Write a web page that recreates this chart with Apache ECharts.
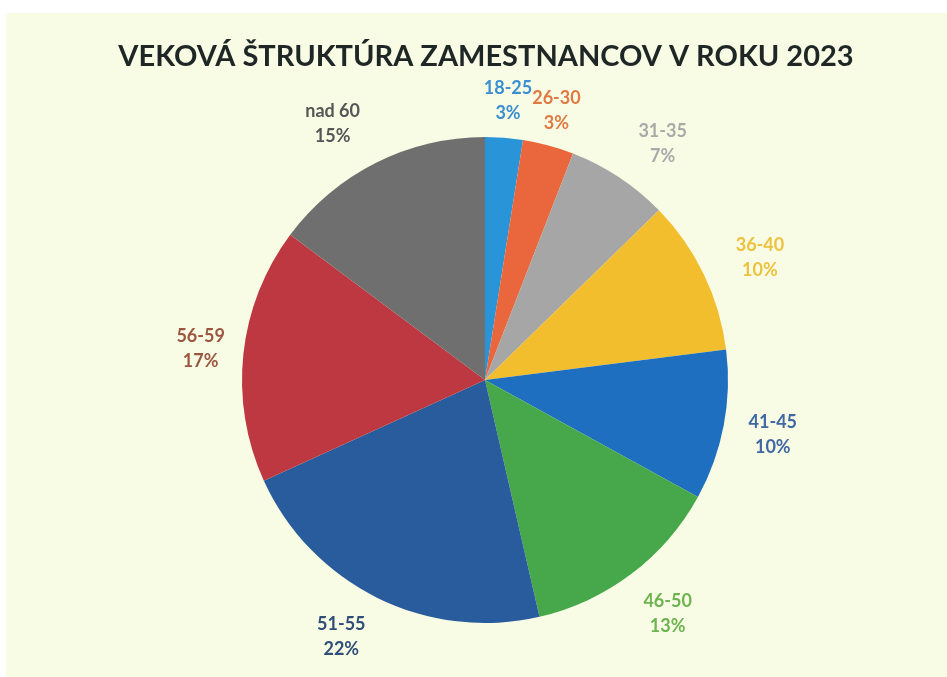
<!DOCTYPE html>
<html>
<head>
<meta charset="utf-8">
<script src="https://cdn.jsdelivr.net/npm/echarts@6/dist/echarts.min.js"></script>
<style>
  html, body { margin: 0; padding: 0; background: #ffffff; width: 947px; height: 677px; overflow: hidden; }
  #chart { position: absolute; left: 6px; top: 13px; width: 941px; height: 664px; background: #f9fce4; }
</style>
</head>
<body>
<div id="chart"></div>
<script>
const titleText = 'VEKOVÁ ŠTRUKTÚRA ZAMESTNANCOV V ROKU 2023';
const categories = ['18-25', '26-30', '31-35', '36-40', '41-45', '46-50', '51-55', '56-59', 'nad 60'];
const shares = [2.5, 3.4, 6.8, 10.3, 10.0, 13.4, 21.8, 17.0, 14.8];
const sliceColors = ['#2994d8', '#ea663c', '#a6a6a6', '#f3be2e', '#1f6fc1', '#47a84b', '#285c9c', '#bd3840', '#6f6f6f'];
const labelColors = ['#3a8fd2', '#e07a44', '#a9a9a9', '#ecc23e', '#3e67a4', '#6db34f', '#2f4e78', '#9b5640', '#565656'];
// small label nudges (layout styling, px)
const labelNudge = [[0, 13], [-5, 14], [16, 8], [11, 5], [0, 0], [6, 0], [-14, -6], [7, 0], [-21, 6]];

const chart = echarts.init(document.getElementById('chart'), null, { renderer: 'canvas' });
const font = 'Lato, "Open Sans", sans-serif';
const cx = 479, cy = 367;

chart.setOption({
  animation: false,
  backgroundColor: 'transparent',
  title: {
    text: titleText,
    left: cx - 4,
    top: 24,
    textAlign: 'center',
    textStyle: { fontFamily: font, fontWeight: 'bold', fontSize: 29, color: '#1f2626' }
  },
  series: [
    {
      type: 'pie',
      center: [cx, cy],
      radius: 243,
      startAngle: 90,
      clockwise: true,
      silent: true,
      label: { show: false },
      labelLine: { show: false },
      data: categories.map((c, i) => ({ name: c, value: shares[i], itemStyle: { color: sliceColors[i] } }))
    },
    {
      type: 'pie',
      center: [cx, cy],
      radius: [270, 310],
      startAngle: 90,
      clockwise: true,
      silent: true,
      labelLine: { show: false },
      labelLayout: p => ({ dx: labelNudge[p.dataIndex][0], dy: labelNudge[p.dataIndex][1] }),
      label: {
        show: true,
        position: 'inside',
        fontFamily: font,
        fontWeight: 'bold',
        fontSize: 18,
        lineHeight: 25,
        formatter: p => p.name + '\n' + Math.round(p.percent) + '%'
      },
      data: categories.map((c, i) => ({
        name: c, value: shares[i],
        itemStyle: { color: 'rgba(0,0,0,0)' },
        label: { color: labelColors[i] }
      }))
    }
  ]
});
</script>
</body>
</html>
